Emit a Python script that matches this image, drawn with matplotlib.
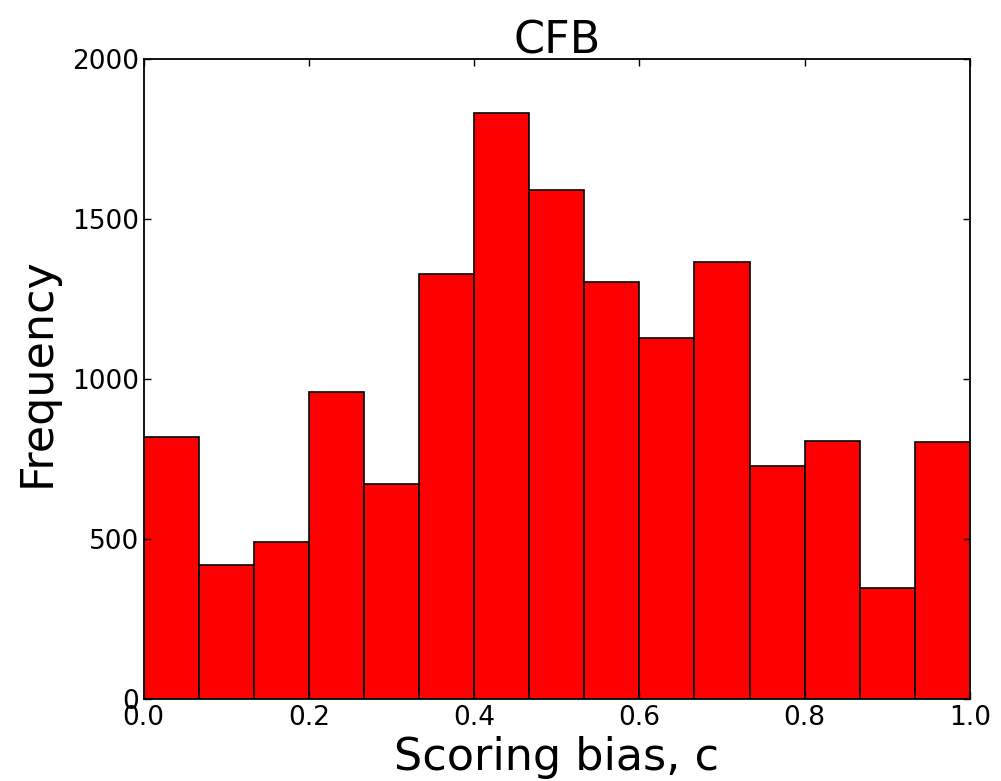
import numpy as np
import matplotlib
matplotlib.use("Agg")
import matplotlib.pyplot as plt

# Histogram of scoring bias (15 equal bins on [0, 1])
bin_edges = np.linspace(0.0, 1.0, 16)
counts = [817, 418, 488, 957, 672, 1327, 1830, 1590, 1301, 1126, 1364, 726, 805, 347, 801]
x_ticks = [0.0, 0.2, 0.4, 0.6, 0.8, 1.0]
y_ticks = [0, 500, 1000, 1500, 2000]

fig = plt.figure(figsize=(10.01, 7.81), dpi=100)
ax = fig.add_axes([0.1434, 0.1056, 0.8256, 0.8189])

ax.hist(bin_edges[:-1], bins=bin_edges, weights=counts,
        color="#ff0000", edgecolor="black", linewidth=1.2)

ax.set_xlim(0, 1)
ax.set_ylim(0, 2000)
ax.set_xticks(x_ticks)
ax.set_xticklabels([f"{t:.1f}" for t in x_ticks])
ax.set_yticks(y_ticks)
ax.tick_params(axis="both", direction="in", length=5, width=1, top=True, right=True,
               labelsize=19)
ax.tick_params(axis="y", pad=3)
ax.tick_params(axis="x", pad=5)
for s in ax.spines.values():
    s.set_linewidth(1.3)

ax.set_title("CFB", fontsize=32, pad=4)
ax.set_xlabel("Scoring bias, c", fontsize=32, labelpad=3.5)
ax.set_ylabel("Frequency", fontsize=32, labelpad=10)
ax.yaxis.label.set_y(0.51)

fig.savefig("out.png", dpi=100)
